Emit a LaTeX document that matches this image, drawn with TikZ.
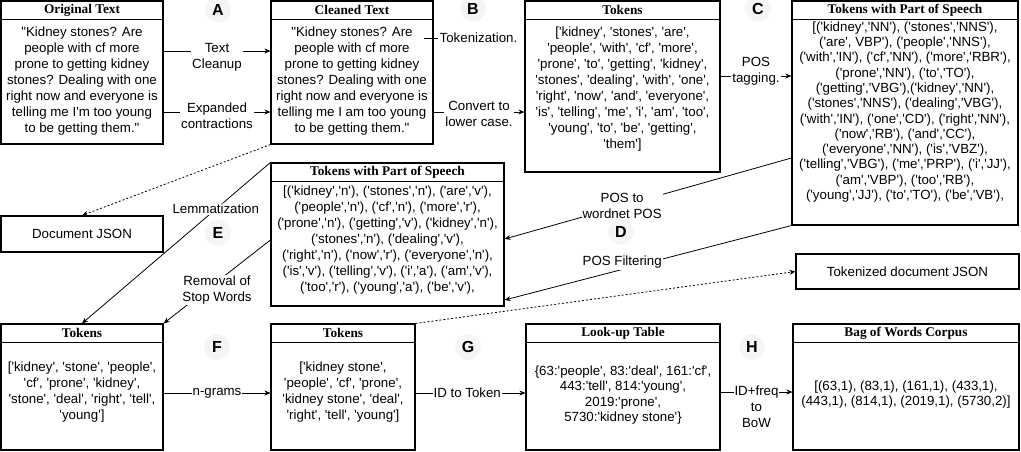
\documentclass[tikz,border=0pt]{standalone}
\usepackage{fontspec}
\setmainfont{Liberation Sans}[Ligatures=TeXOff]
\newfontfamily\ttlfont{Liberation Serif}[Ligatures=TeXOff]
\usetikzlibrary{arrows.meta}

\begin{document}
\begin{tikzpicture}[x=1pt,y=-1pt,
  box/.style={draw,line width=1.1pt,inner sep=0pt},
  ttl/.style={anchor=north,minimum height=19pt,inner sep=0pt,font=\ttlfont\bfseries\fontsize{13.3}{16}\selectfont},
  txt/.style={align=center,inner sep=0pt,font=\fontsize{13.3}{16}\selectfont},
  lbl/.style={align=center,fill=white,inner sep=1pt,font=\fontsize{13.3}{16}\selectfont},
  flow/.style={line width=0.8pt,-{Stealth[length=6pt,width=5pt]}},
  json/.style={flow,dash pattern=on 2pt off 2pt},
  letter/.style={circle,fill=black!4,minimum size=26pt,inner sep=0pt,font=\bfseries\fontsize{16}{16}\selectfont}]
\useasboundingbox (0,0) rectangle (1021,451);

% top row
\node[box,minimum width=162pt,minimum height=143pt] (orig) at (82,72.5) {};
\node[ttl] at (orig.north) {Original Text};
\draw[line width=1.1pt] ([yshift=-19pt]orig.north west) -- ([yshift=-19pt]orig.north east);
\node[txt] (origtxt) at (82,81) {"Kidney stones? Are\\people with cf more\\prone to getting kidney\\stones? Dealing with one\\right now and everyone is\\telling me I'm too young\\to be getting them."};

\node[box,minimum width=162pt,minimum height=143pt] (clean) at (352,72.5) {};
\node[ttl] at (clean.north) {Cleaned Text};
\draw[line width=1.1pt] ([yshift=-19pt]clean.north west) -- ([yshift=-19pt]clean.north east);
\node[txt] (cleantxt) at (352,81) {"Kidney stones? Are\\people with cf more\\prone to getting kidney\\stones? Dealing with one\\right now and everyone is\\telling me I am too young\\to be getting them."};

\node[box,minimum width=195pt,minimum height=171pt] (tok) at (622.5,86.5) {};
\node[ttl] at (tok.north) {Tokens};
\draw[line width=1.1pt] ([yshift=-19pt]tok.north west) -- ([yshift=-19pt]tok.north east);
\node[txt] (toktxt) at (622.5,89.5) {['kidney', 'stones', 'are',\\'people', 'with', 'cf', 'more',\\'prone', 'to', 'getting', 'kidney',\\'stones', 'dealing', 'with', 'one',\\'right', 'now', 'and', 'everyone',\\'is', 'telling', 'me', 'i', 'am', 'too',\\'young', 'to', 'be', 'getting',\\'them']};

\node[box,minimum width=226pt,minimum height=224pt] (tpos) at (905,113) {};
\node[ttl] at (tpos.north) {Tokens with Part of Speech};
\draw[line width=1.1pt] ([yshift=-19pt]tpos.north west) -- ([yshift=-19pt]tpos.north east);
\node[txt,font=\fontsize{13.3}{15.3}\selectfont] (tpostxt) at (905,112) {[('kidney','NN'), ('stones','NNS'),\\('are', VBP'), ('people','NNS'),\\('with','IN'), ('cf','NN'), ('more','RBR'),\\('prone','NN'), ('to','TO'),\\('getting','VBG'),('kidney','NN'),\\('stones','NNS'), ('dealing','VBG'),\\('with','IN'), ('one','CD'), ('right','NN'),\\('now','RB'), ('and','CC'),\\('everyone','NN'), ('is','VBZ'),\\('telling','VBG'), ('me','PRP'), ('i','JJ'),\\('am','VBP'), ('too','RB'),\\('young','JJ'), ('to','TO'), ('be','VB'),};

% middle row
\node[box,minimum width=233pt,minimum height=143pt] (tposw) at (387.5,234.5) {};
\node[ttl] at (tposw.north) {Tokens with Part of Speech};
\draw[line width=1.1pt] ([yshift=-19pt]tposw.north west) -- ([yshift=-19pt]tposw.north east);
\node[txt] (tposwtxt) at (387.5,240) {[('kidney','n'), ('stones','n'), ('are','v'),\\('people','n'), ('cf','n'), ('more','r'),\\('prone','n'), ('getting','v'), ('kidney','n'),\\('stones','n'), ('dealing','v'),\\('right','n'), ('now','r'), ('everyone','n'),\\('is','v'), ('telling','v'), ('i','a'), ('am','v'),\\('too','r'), ('young','a'), ('be','v'),};

\node[box,minimum width=162pt,minimum height=36pt,font=\fontsize{13.3}{16}\selectfont] (docjson) at (82,234) {Document JSON};
\node[box,minimum width=223pt,minimum height=35pt,font=\fontsize{13.3}{16}\selectfont] (tokjson) at (907.5,271.5) {Tokenized document JSON};

% bottom row
\node[box,minimum width=162pt,minimum height=126pt] (tok3) at (82,387) {};
\node[ttl] at (tok3.north) {Tokens};
\draw[line width=1.1pt] ([yshift=-19pt]tok3.north west) -- ([yshift=-19pt]tok3.north east);
\node[txt] (tok3txt) at (82,392) {['kidney', 'stone', 'people',\\'cf', 'prone', 'kidney',\\'stone', 'deal', 'right', 'tell',\\'young']};

\node[box,minimum width=144pt,minimum height=126pt] (tok4) at (343,387) {};
\node[ttl] at (tok4.north) {Tokens};
\draw[line width=1.1pt] ([yshift=-19pt]tok4.north west) -- ([yshift=-19pt]tok4.north east);
\node[txt] (tok4txt) at (343,392) {['kidney stone',\\'people', 'cf', 'prone',\\'kidney stone', 'deal',\\'right', 'tell', 'young']};

\node[box,minimum width=194pt,minimum height=126pt] (lookup) at (623,387) {};
\node[ttl] at (lookup.north) {Look-up Table};
\draw[line width=1.1pt] ([yshift=-19pt]lookup.north west) -- ([yshift=-19pt]lookup.north east);
\node[txt,font=\fontsize{13.3}{15.4}\selectfont] (lookuptxt) at (623,395) {\{63:'people', 83:'deal', 161:'cf',\\443:'tell', 814:'young',\\2019:'prone',\\5730:'kidney stone'\}};

\node[box,minimum width=226pt,minimum height=126pt] (bow) at (906,387) {};
\node[ttl] at (bow.north) {Bag of Words Corpus};
\draw[line width=1.1pt] ([yshift=-19pt]bow.north west) -- ([yshift=-19pt]bow.north east);
\node[txt,font=\fontsize{13.3}{15}\selectfont] (bowtxt) at (906,394.5) {[(63,1), (83,1), (161,1), (433,1),\\(443,1), (814,1), (2019,1), (5730,2)]};

% step letters
\node[letter] at (218,9.5) {A};
\node[letter] at (473,8.5) {B};
\node[letter] at (758,8.5) {C};
\node[letter] at (621,232) {D};
\node[letter] at (218,233) {E};
\node[letter] at (217,347) {F};
\node[letter] at (468,347) {G};
\node[letter] at (752,347) {H};

% connectors
\draw[flow] (orig.east |- 0,51) -- node[lbl,yshift=-6pt]{Text\\Cleanup} (clean.west |- 0,51);
\draw[flow] (orig.east |- 0,112) -- node[lbl,yshift=-4pt]{Expanded\\contractions} (clean.west |- 0,112);
\node[lbl] (tokz) at (478.5,38) {Tokenization.};
\draw[line width=0.8pt] ([xshift=-10pt]clean.east |- tokz) -- (tokz);
\draw[flow] (clean.east |- 0,112) -- node[lbl,yshift=-2pt]{Convert to\\lower case.} (tok.west |- 0,112);
\draw[flow] (tok.east |- 0,76) -- node[lbl,yshift=5pt]{POS\\tagging.} (tpos.west |- 0,76);
\draw[flow] (tpos.west |- 0,158) -- node[lbl,pos=0.59]{POS to\\wordnet POS} (tposw.east |- 0,239);
\draw[flow] (tpos.south west) -- node[lbl,pos=0.59,yshift=7pt]{POS Filtering} (tposw.east |- 0,300);
\draw[json] (clean.south west) -- (docjson.north);
\draw[flow] (tposw.north west) -- node[lbl,pos=0.29]{Lemmatization} (tok3.north);
\draw[flow] (tposw.west |- 0,240) -- node[lbl,yshift=-8pt]{Removal of\\Stop Words} (tok3.north east);
\draw[flow] (tok3.east |- 0,393) -- node[lbl]{n-grams} (tok4.west |- 0,393);
\draw[json] (tok4.north east) -- (tokjson.west);
\draw[flow] (tok4.east |- 0,393) -- node[lbl,pos=0.47]{ID to Token} (lookup.west |- 0,393);
\draw[flow] (lookup.east |- 0,392) -- node[lbl,yshift=-15pt]{ID+freq\\to\\BoW} (bow.west |- 0,392);
\end{tikzpicture}
\end{document}
